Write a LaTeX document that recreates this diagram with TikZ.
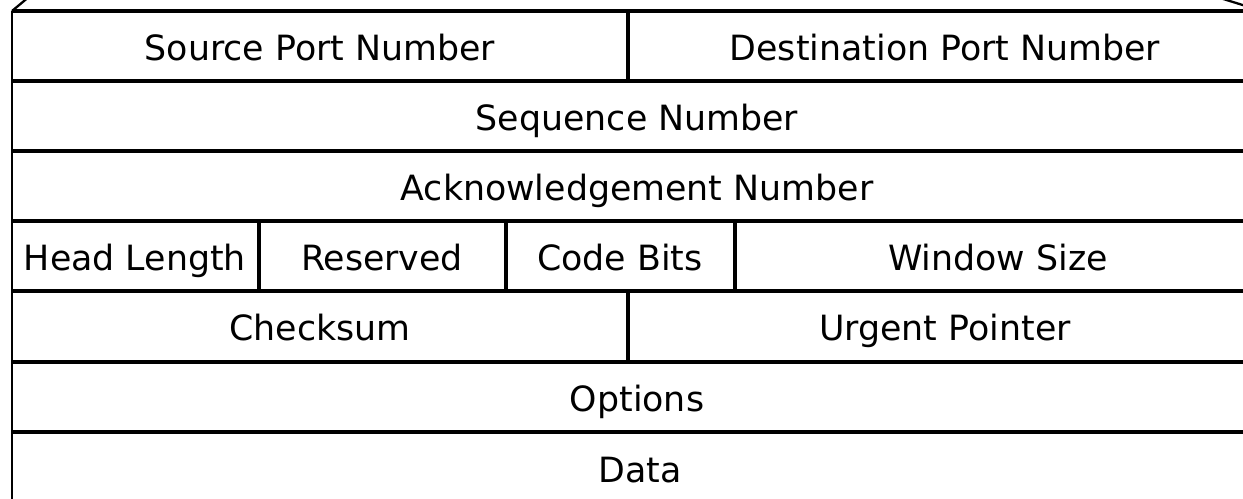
\documentclass[tikz,border=0pt]{standalone}
\usepackage{fontspec}
\setmainfont{DejaVu Sans}
\newcommand{\fieldfont}{\fontsize{19.8}{24}\selectfont}

\begin{document}
\begin{tikzpicture}[x=0.02cm,y=-0.02cm,
    field/.style={font=\fieldfont, inner sep=0pt, anchor=base},
    rule/.style={line width=1.8pt},
    side/.style={line width=1.3pt}]
    \useasboundingbox (0,0) rectangle (1243,499);
    \clip (0,0) rectangle (1243,499);

    % outline of the header
    \draw[side] (12,11) -- (12,510);
    \draw[side] (12,11) -- (30,-4);
    \draw[side] (1262,11) -- (1220,-2);
    \foreach \y in {11,81,151,221,291,362,432}
        \draw[rule] (12,\y) -- (1270,\y);

    % dividers
    \draw[rule] (628,11) -- (628,81);
    \draw[rule] (259,221) -- (259,291);
    \draw[rule] (506,221) -- (506,291);
    \draw[rule] (735,221) -- (735,291);
    \draw[rule] (628,291) -- (628,362);

    % fields
    \node[field] (src) at (320,61) {Source Port Number};
    \node[field] (dst) at (945,61) {Destination Port Number};
    \node[field] (seq) at (637,131) {Sequence Number};
    \node[field] (ack) at (637,201) {Acknowledgement Number};
    \node[field] (hlen) at (135,271) {Head Length};
    \node[field] (rsv) at (382,271) {Reserved};
    \node[field] (code) at (620,271) {Code Bits};
    \node[field] (win) at (998,271) {Window Size};
    \node[field] (csum) at (320,341) {Checksum};
    \node[field] (urg) at (945,341) {Urgent Pointer};
    \node[field] (opt) at (637,412) {Options};
    \node[field] (data) at (640,482) {Data};
\end{tikzpicture}
\end{document}
